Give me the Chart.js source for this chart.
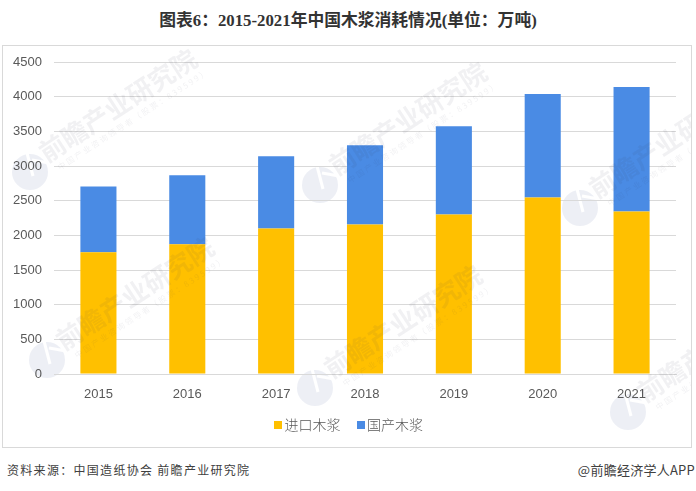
<!DOCTYPE html>
<html lang="zh">
<head>
<meta charset="utf-8">
<script src="https://cdn.jsdelivr.net/npm/chart.js@4"></script>
<style>
    body { margin: 0; background: #fff; width: 696px; height: 491px; position: relative; overflow: hidden;
           font-family: "Noto Sans CJK SC", sans-serif; }
    #title { position: absolute; left: 0; top: 9px; width: 696px; text-align: center; font-size: 16.8px; font-weight: bold;
             color: #333; font-family: "Liberation Serif", "Noto Sans CJK SC", serif; line-height: 24px; }
    #frame { position: absolute; left: 2px; top: 45px; width: 688px; height: 401px; border: 1px solid #d9d9d9; }
    canvas { position: absolute; left: 0; top: 0; }
    #legend { position: absolute; left: 274px; top: 414px; font-size: 14px; font-weight: 300; color: #595959; line-height: 20px; white-space: nowrap; }
    #legend span { display: inline-block; margin-right: 16px; }
    #legend i { display: inline-block; width: 8px; height: 8px; margin-right: 2.5px; vertical-align: 1px; }
    #source { position: absolute; left: 7px; top: 461px; font-size: 12px; color: #404040; letter-spacing: 1.3px; line-height: 18px; }
    #brand { position: absolute; right: 1px; top: 461px; font-size: 13px; color: #404040; letter-spacing: 0.25px; line-height: 18px; }
</style>
</head>
<body>
<div id="title">图表6：2015-2021年中国木浆消耗情况(单位：万吨)</div>
<div id="frame"><canvas id="pulpChart" width="688" height="401"></canvas></div>
<div id="legend"></div>
<div id="source">资料来源：中国造纸协会 前瞻产业研究院</div>
<div id="brand">@前瞻经济学人APP</div>
<script>
// data
const years = ['2015', '2016', '2017', '2018', '2019', '2020', '2021'];
const importedPulp = [1755, 1871, 2098, 2156, 2301, 2547, 2344];
const domesticPulp = [951, 994, 1042, 1144, 1273, 1490, 1795];
const seriesNames = ['进口木浆', '国产木浆'];
const seriesColors = ['#ffc000', '#4a8be4'];
const yTicks = [0, 500, 1000, 1500, 2000, 2500, 3000, 3500, 4000, 4500];

// watermark stamps: logo centre in canvas pixels
const stamps = [[27, 126], [44, 314], [317, 139], [312, 342], [577, 162], [625, 366]];

const watermark = {
    id: 'watermark',
    // logo goes under everything so it never covers a tick label
    beforeDraw(chart) {
        const ctx = chart.ctx;
        stamps.forEach(([x, y]) => {
            ctx.save();
            ctx.translate(x, y);
            ctx.fillStyle = 'rgba(51, 80, 140, 0.09)';
            ctx.beginPath();
            ctx.arc(0, 0, 18, 0, Math.PI * 2);
            ctx.fill();
            ctx.strokeStyle = '#fff';
            ctx.lineWidth = 3;
            ctx.beginPath();
            ctx.moveTo(-3, -19);
            ctx.lineTo(3, 4);
            ctx.moveTo(2, -12);
            ctx.lineTo(19, -9);
            ctx.stroke();
            ctx.restore();
        });
    },
    // name sits over the bars, very faint
    afterDatasetsDraw(chart) {
        const ctx = chart.ctx;
        stamps.forEach(([x, y]) => {
            ctx.save();
            ctx.translate(x, y);
            ctx.rotate(-33 * Math.PI / 180);
            ctx.textBaseline = 'middle';
            ctx.fillStyle = 'rgba(51, 60, 90, 0.07)';
            ctx.font = 'bold 26px "Noto Sans CJK SC"';
            ctx.fillText('前瞻产业研究院', 19, -8);
            ctx.font = '8px "Noto Sans CJK SC"';
            ctx.letterSpacing = '2px';
            ctx.fillText('中国产业咨询领导者（股票：839599）', 26, 12);
            ctx.restore();
        });
    }
};

document.getElementById('legend').innerHTML = seriesNames
    .map((name, i) => `<span><i style="background:${seriesColors[i]}"></i>${name}</span>`)
    .join('');

new Chart(document.getElementById('pulpChart'), {
    type: 'bar',
    data: {
        labels: years,
        datasets: [
            { label: seriesNames[0], data: importedPulp, backgroundColor: seriesColors[0] },
            { label: seriesNames[1], data: domesticPulp, backgroundColor: seriesColors[1] }
        ]
    },
    options: {
        responsive: false,
        animation: false,
        layout: { padding: { top: 16, right: 15, bottom: 41, left: 0 } },
        datasets: { bar: { barPercentage: 0.406, categoryPercentage: 1 } },
        plugins: {
            tooltip: { enabled: false },
            legend: { display: false }
        },
        scales: {
            x: {
                stacked: true,
                grid: { display: false },
                border: { color: '#d9d9d9' },
                ticks: { color: '#595959', font: { family: '"Liberation Sans"', size: 13 }, padding: 5 },
                afterFit(axis) { axis.height = 32; }
            },
            y: {
                stacked: true,
                min: 0,
                max: 4500,
                grid: { color: '#d9d9d9', drawTicks: false },
                border: { display: false },
                ticks: { color: '#595959', font: { family: '"Liberation Sans"', size: 13 }, padding: 12,
                          stepSize: 500, callback: v => yTicks.includes(v) ? String(v) : '' },
                afterFit(axis) {
                    axis.width = 51;
                    // tick padding otherwise leaks into the top margin
                    axis.paddingTop = 0;
                    axis.paddingBottom = 0;
                }
            }
        }
    },
    plugins: [watermark]
});
</script>
</body>
</html>
